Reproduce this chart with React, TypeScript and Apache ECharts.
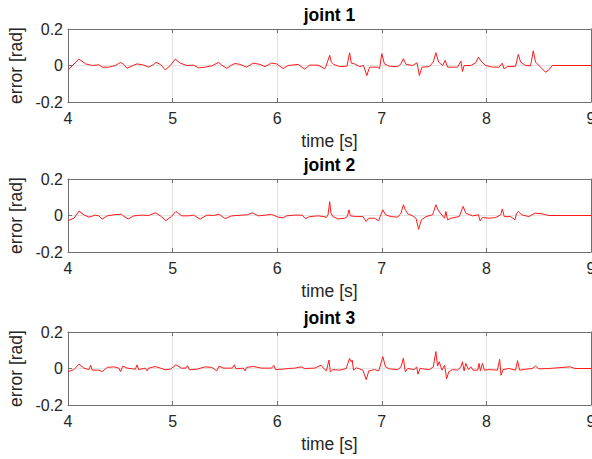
import React, { useEffect, useRef } from "react";
import * as echarts from "echarts";

const titles = ["joint 1", "joint 2", "joint 3"];
const xTicks = [4, 5, 6, 7, 8, 9];
const yTicks = [-0.2, 0, 0.2];

const joint1: [number, number][] = [
  [4.0, -0.024], [4.105, 0.035], [4.168, 0.009], [4.232, 0.0], [4.295, 0.004], [4.327, -0.009],
  [4.39, -0.009], [4.454, 0.0], [4.502, 0.017], [4.533, 0.006], [4.565, -0.015], [4.613, -0.002],
  [4.66, 0.009], [4.724, 0.002], [4.771, -0.009], [4.819, 0.006], [4.841, 0.017], [4.883, 0.006],
  [4.93, -0.024], [4.978, 0.0], [5.025, 0.035], [5.073, 0.013], [5.137, 0.0], [5.2, 0.002],
  [5.248, -0.013], [5.311, -0.009], [5.375, -0.002], [5.438, 0.017], [5.47, 0.002], [5.517, -0.015],
  [5.565, 0.002], [5.597, 0.011], [5.644, 0.006], [5.708, -0.009], [5.771, 0.013], [5.835, 0.006],
  [5.883, -0.006], [5.946, 0.013], [5.994, 0.009], [6.057, -0.017], [6.105, 0.0], [6.2, 0.006],
  [6.263, -0.02], [6.311, 0.002], [6.39, 0.002], [6.454, -0.018], [6.463, -0.009], [6.502, 0.056],
  [6.517, 0.019], [6.54, 0.006], [6.597, -0.006], [6.667, -0.004], [6.692, 0.07], [6.708, 0.013],
  [6.74, 0.009], [6.787, -0.006], [6.825, 0.0], [6.857, -0.055], [6.883, -0.009], [6.962, -0.009],
  [6.978, -0.018], [7.0, 0.065], [7.025, 0.009], [7.073, -0.004], [7.152, -0.006], [7.184, 0.009],
  [7.206, 0.037], [7.232, 0.006], [7.295, 0.0], [7.337, 0.015], [7.359, -0.055], [7.384, -0.009],
  [7.454, -0.006], [7.492, 0.019], [7.517, 0.07], [7.543, 0.019], [7.581, 0.0], [7.606, 0.028],
  [7.629, -0.009], [7.676, -0.009], [7.724, -0.009], [7.756, 0.024], [7.771, -0.033], [7.787, 0.0],
  [7.851, 0.0], [7.898, 0.015], [7.924, 0.046], [7.956, 0.019], [7.994, 0.0], [8.057, -0.009],
  [8.121, -0.009], [8.152, 0.013], [8.168, -0.018], [8.2, -0.006], [8.279, -0.004], [8.305, 0.061],
  [8.327, 0.019], [8.375, 0.0], [8.422, -0.002], [8.448, 0.08], [8.47, 0.019], [8.502, 0.0],
  [8.533, -0.018], [8.565, -0.037], [8.597, -0.024], [8.629, 0.0], [8.692, 0.0], [9.0, 0.0],
];

const joint2: [number, number][] = [
  [4.0, -0.028], [4.057, -0.015], [4.105, 0.024], [4.152, 0.004], [4.2, -0.009], [4.263, 0.002],
  [4.295, -0.002], [4.327, -0.02], [4.375, -0.002], [4.438, 0.004], [4.511, 0.007], [4.533, -0.004],
  [4.575, -0.019], [4.629, -0.002], [4.708, 0.002], [4.771, 0.0], [4.835, 0.015], [4.883, -0.002],
  [4.937, -0.028], [4.987, -0.006], [5.032, 0.022], [5.089, -0.002], [5.152, -0.002], [5.2, 0.002],
  [5.263, -0.02], [5.327, 0.002], [5.39, 0.0], [5.444, 0.007], [5.502, -0.017], [5.565, -0.002],
  [5.66, 0.002], [5.717, 0.004], [5.762, 0.015], [5.819, -0.002], [5.883, 0.002], [5.946, 0.006],
  [6.009, -0.009], [6.057, -0.013], [6.089, -0.002], [6.168, 0.002], [6.238, 0.002], [6.27, -0.017],
  [6.311, -0.006], [6.39, -0.002], [6.448, -0.006], [6.47, -0.011], [6.486, 0.004], [6.502, 0.076],
  [6.514, 0.013], [6.533, -0.006], [6.581, -0.019], [6.644, -0.015], [6.67, -0.006], [6.686, 0.031],
  [6.7, -0.002], [6.756, -0.006], [6.819, -0.006], [6.851, -0.033], [6.876, -0.015], [6.93, -0.015],
  [6.971, -0.028], [6.984, -0.006], [7.01, 0.031], [7.035, 0.004], [7.089, -0.006], [7.152, -0.009],
  [7.184, 0.013], [7.206, 0.059], [7.225, 0.031], [7.248, 0.009], [7.295, -0.002], [7.327, -0.015],
  [7.352, -0.076], [7.378, -0.024], [7.422, -0.006], [7.486, 0.004], [7.517, 0.059], [7.537, 0.031],
  [7.565, 0.009], [7.6, -0.015], [7.613, 0.022], [7.629, -0.024], [7.66, -0.015], [7.74, -0.006],
  [7.778, 0.05], [7.803, 0.013], [7.867, -0.002], [7.924, 0.004], [7.94, -0.03], [7.962, -0.011],
  [8.025, -0.015], [8.089, -0.011], [8.137, 0.004], [8.152, 0.035], [8.171, -0.006], [8.232, -0.006],
  [8.273, -0.024], [8.289, 0.013], [8.305, 0.022], [8.337, 0.004], [8.406, -0.006], [8.463, 0.013],
  [8.533, 0.009], [8.597, 0.0], [9.0, 0.0],
];

const joint3: [number, number][] = [
  [4.0, -0.017], [4.057, -0.006], [4.105, 0.024], [4.152, 0.002], [4.2, -0.006], [4.216, 0.017],
  [4.232, -0.009], [4.295, -0.009], [4.327, -0.017], [4.375, 0.006], [4.438, 0.009], [4.486, 0.002],
  [4.502, -0.017], [4.524, 0.013], [4.565, 0.002], [4.644, -0.004], [4.66, 0.02], [4.676, -0.006],
  [4.74, 0.002], [4.756, -0.013], [4.771, 0.002], [4.835, 0.011], [4.883, 0.002], [4.93, -0.007],
  [4.978, -0.004], [5.032, 0.02], [5.083, 0.002], [5.127, 0.002], [5.143, 0.015], [5.162, -0.007],
  [5.232, -0.004], [5.311, 0.009], [5.375, 0.006], [5.422, -0.013], [5.444, 0.013], [5.486, 0.002],
  [5.571, 0.002], [5.59, 0.02], [5.606, -0.002], [5.676, 0.002], [5.692, -0.013], [5.708, 0.006],
  [5.771, 0.011], [5.851, 0.002], [5.946, 0.002], [5.968, 0.017], [5.984, -0.006], [6.041, -0.004],
  [6.105, 0.0], [6.168, 0.002], [6.232, 0.009], [6.26, 0.0], [6.359, 0.002], [6.42, 0.018],
  [6.445, 0.0], [6.47, -0.013], [6.495, 0.046], [6.508, -0.018], [6.533, -0.006], [6.597, -0.009],
  [6.66, 0.0], [6.676, 0.028], [6.692, 0.055], [6.708, 0.037], [6.717, 0.046], [6.73, -0.009],
  [6.756, 0.004], [6.819, -0.009], [6.851, -0.061], [6.876, -0.013], [6.93, -0.006], [6.971, -0.013],
  [7.01, 0.065], [7.035, 0.009], [7.073, -0.002], [7.152, -0.006], [7.184, 0.009], [7.206, 0.056],
  [7.225, -0.018], [7.248, 0.0], [7.311, -0.006], [7.333, 0.009], [7.346, -0.031], [7.365, 0.0],
  [7.454, -0.006], [7.492, 0.009], [7.517, 0.093], [7.533, 0.013], [7.549, 0.037], [7.575, -0.009],
  [7.6, 0.018], [7.62, -0.056], [7.64, -0.018], [7.676, -0.006], [7.724, -0.009], [7.756, 0.009],
  [7.771, 0.037], [7.787, -0.013], [7.803, 0.028], [7.829, -0.006], [7.851, 0.009], [7.873, -0.009],
  [7.917, -0.009], [7.93, 0.028], [7.943, -0.013], [7.962, 0.028], [7.981, -0.009], [8.025, -0.006],
  [8.105, -0.009], [8.127, 0.05], [8.14, -0.037], [8.159, -0.006], [8.216, 0.0], [8.279, -0.009],
  [8.298, 0.043], [8.317, -0.009], [8.375, -0.004], [8.438, 0.0], [8.47, 0.013], [8.502, -0.002],
  [8.597, 0.0], [8.80, 0.009], [8.848, 0.0], [9.0, 0.0],
];

const series = [joint1, joint2, joint3];

const GRID_TOPS = [29, 179, 332];
const GRID_H = 73;
const LEFT = 68;
const WIDTH = 523;
const TEXT = "#262626";
const AXIS = "#6f6f6f";
const FONT = "'Liberation Sans', Arial, Helvetica, sans-serif";

export default function App() {
  const ref = useRef<HTMLDivElement>(null);
  useEffect(() => {
    document.body.style.margin = "0";
    if (!ref.current) return;
    const chart = echarts.init(ref.current, undefined, { renderer: "svg" });
    const grids: any[] = [];
    const xAxes: any[] = [];
    const yAxes: any[] = [];
    const lines: any[] = [];
    const graphics: any[] = [];
    const tick = { show: true, inside: true, length: 4, lineStyle: { color: AXIS, width: 1 } };
    const axLine = { show: true, onZero: false, lineStyle: { color: AXIS, width: 1 } };
    const grid = { show: true, lineStyle: { color: "#e3e3e3", width: 1 } };
    series.forEach((data, i) => {
      grids.push({
        left: LEFT, top: GRID_TOPS[i], width: WIDTH, height: GRID_H,
        containLabel: false, outerBoundsMode: "none",
      });
      xAxes.push({
        type: "value", gridIndex: i, min: xTicks[0], max: xTicks[xTicks.length - 1], interval: 1,
        position: "bottom", axisLine: axLine, axisTick: tick, splitLine: grid,
        axisLabel: { color: TEXT, fontSize: 16, fontFamily: FONT, margin: 8 },
        name: "time [s]", nameLocation: "middle", nameGap: 30,
        nameTextStyle: { color: TEXT, fontSize: 17.5, fontFamily: FONT },
      });
      xAxes.push({
        type: "value", gridIndex: i, min: xTicks[0], max: xTicks[xTicks.length - 1], interval: 1,
        position: "top", axisLine: axLine, axisTick: tick, splitLine: { show: false },
        axisLabel: { show: false },
      });
      yAxes.push({
        type: "value", gridIndex: i, min: yTicks[0], max: yTicks[yTicks.length - 1], interval: 0.2,
        position: "left", axisLine: axLine, axisTick: tick, splitLine: grid,
        axisLabel: { color: TEXT, fontSize: 16, fontFamily: FONT, margin: 5 },
        name: "error [rad]", nameLocation: "middle", nameGap: 34,
        nameTextStyle: { color: TEXT, fontSize: 17.5, fontFamily: FONT },
      });
      yAxes.push({
        type: "value", gridIndex: i, min: yTicks[0], max: yTicks[yTicks.length - 1], interval: 0.2,
        position: "right", axisLine: axLine, axisTick: tick, splitLine: { show: false },
        axisLabel: { show: false },
      });
      lines.push({
        type: "line", xAxisIndex: 2 * i, yAxisIndex: 2 * i, data,
        showSymbol: false, symbol: "none",
        lineStyle: { color: "#ff1a1a", width: 1 },
      });
      graphics.push({
        type: "text", x: LEFT + WIDTH / 2, y: GRID_TOPS[i] - 14,
        style: {
          text: titles[i], fill: "#000", fontSize: 17.5, fontWeight: "bold", fontFamily: FONT,
          textAlign: "center", textVerticalAlign: "middle",
        },
      });
    });
    chart.setOption({
      animation: false,
      backgroundColor: "#ffffff",
      grid: grids,
      xAxis: xAxes,
      yAxis: yAxes,
      series: lines,
      graphic: graphics,
    });
    return () => chart.dispose();
  }, []);
  return <div ref={ref} style={{ width: 592, height: 459 }} />;
}
